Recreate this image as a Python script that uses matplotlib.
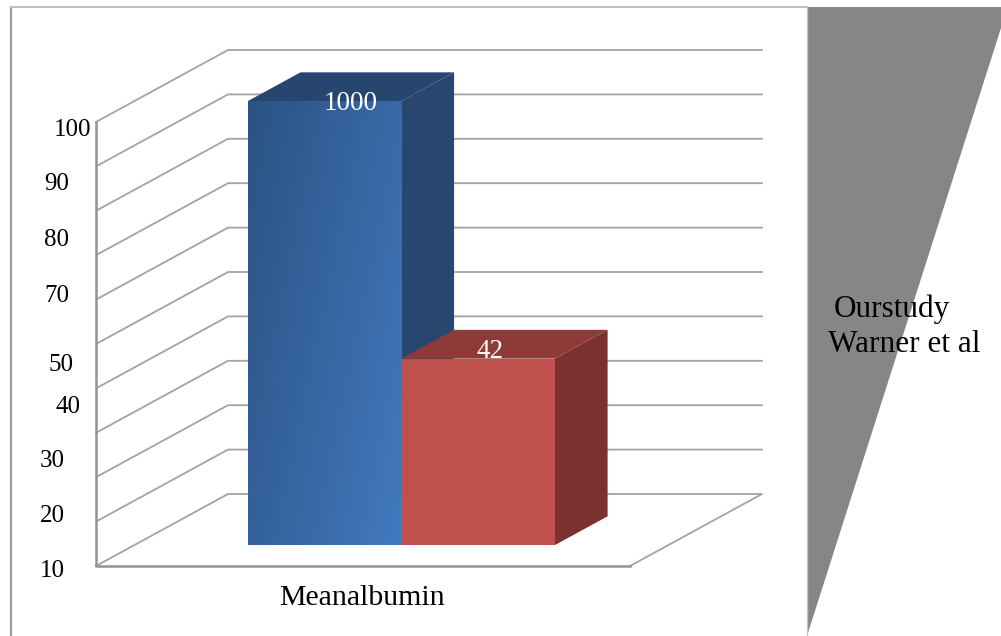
# -- 3D look column chart: mean albumin --

import numpy as np
import matplotlib
matplotlib.use('Agg')
import matplotlib.pyplot as plt
from matplotlib.colors import LinearSegmentedColormap
from matplotlib.patches import Polygon

plt.rcParams['font.family'] = ['Liberation Serif', 'DejaVu Serif']

#------------------------------------------------------------------
# data
category = 'Meanalbumin'
series_names = ['Ourstudy', 'Warner et al']
series_values = [1000, 42]
grid_values = [0, 10, 20, 30, 40, 50, 60, 70, 80, 90, 100]
tick_labels = ['100', '90', '80', '70', '50', '40', '30', '20', '10']

# hand placed axis labels, in pixels: right edge and middle
tick_right = [91, 69, 69, 69, 73, 80, 65, 65, 65]
tick_mid = [130, 184, 240, 296, 365, 407, 461, 516, 571]

#------------------------------------------------------------------
# layout
W, H = 1001, 636
y_max = 100
depth_x = 132 / 534      # shift of the back wall, axes x units
depth_y = 72 / 4.44      # shift of the back wall, value units
bar_near, bar_far = 0.29, 0.69
bar_w = 0.2875
bar_start = 0.2125
grid_col = '#a3a3a3'

fig = plt.figure(figsize=(W / 100, H / 100), dpi=100)

# whole figure layer in pixels, for the frame and the loose text
back = fig.add_axes([0, 0, 1, 1], zorder=0)
back.set_xlim(0, W)
back.set_ylim(H, 0)
back.axis('off')

back.plot([11, 11], [7, H], color='#9a9a9a', lw=1.6)
back.plot([11, 807], [7, 7], color='#bdbdbd', lw=1.4)
back.add_patch(Polygon([(807, 7), (W, 7), (W, 28), (807, H)], closed=True,
                       facecolor='#868686', edgecolor='none'))
back.plot([807, 807], [7, H], color='#c4c4c4', lw=1.0)

# chart layer: x runs 0-1 along the front edge, y is the value
ax = fig.add_axes([96 / W, (H - 566) / H, 534 / W, 444 / H], zorder=1)
ax.patch.set_alpha(0)
ax.axis('off')


def project(x, v, d):
    # oblique projection, d=0 front of the floor, d=1 back wall
    return x + d * depth_x, v + d * depth_y


def face(points, color, z):
    ax.add_patch(Polygon([project(*p) for p in points], closed=True, facecolor=color,
                         edgecolor='none', clip_on=False, zorder=z))


# side wall and back wall lines
for v in grid_values[1:]:
    x_line, y_line = zip(project(0, v, 0), project(0, v, 1), project(1, v, 1))
    ax.plot(x_line, y_line, color=grid_col, lw=1.3, clip_on=False, zorder=1,
            solid_joinstyle='miter')

# floor
x_line, y_line = zip(project(0, 0, 0), project(0, 0, 1), project(1, 0, 1), project(1, 0, 0))
ax.plot(x_line, y_line, color=grid_col, lw=1.3, clip_on=False, zorder=1)
ax.plot([0, 0, 1], [y_max, 0, 0], color='#949494', lw=1.8, clip_on=False, zorder=2)

#------------------------------------------------------------------
# columns, heights stop at the top of the axis
heights = np.minimum(series_values, y_max)
left_edges = [bar_start, bar_start + bar_w]
top_cols = ['#27466f', '#8e3a38']
side_cols = ['#28476e', '#7a312f']
front_cols = ['#3c6ca8', '#c0504d']

for i in range(len(series_values)):
    x0, x1, h = left_edges[i], left_edges[i] + bar_w, heights[i]
    z = 3 + i
    face([(x1, 0, bar_near), (x1, 0, bar_far), (x1, h, bar_far), (x1, h, bar_near)], side_cols[i], z)
    face([(x0, h, bar_near), (x0, h, bar_far), (x1, h, bar_far), (x1, h, bar_near)], top_cols[i], z)
    fx, fy = project(x0, 0, bar_near)
    bars = ax.bar(fx, h, width=bar_w, bottom=fy, align='edge', color=front_cols[i],
                  clip_on=False, zorder=z)
    if i == 0:
        # blue front face gets a diagonal shade
        gx, gy = np.meshgrid(np.linspace(0, 1, 200), np.linspace(1, 0, 200))
        shade = LinearSegmentedColormap.from_list('blue_face', ['#2b5283', '#4279bf'])
        img = ax.imshow(0.62 * gx + 0.38 * (1 - gy), cmap=shade, aspect='auto', zorder=z,
                        extent=[fx, fx + bar_w, fy, fy + h], clip_on=True)
        img.set_clip_path(bars[0])
        # darker top with the same direction
        top_pts = [project(x0, h, bar_near), project(x0, h, bar_far),
                   project(x1, h, bar_far), project(x1, h, bar_near)]
        top_shade = LinearSegmentedColormap.from_list('blue_top', ['#1f3a60', '#2d5281'])
        xs = [p[0] for p in top_pts]
        ys = [p[1] for p in top_pts]
        img_top = ax.imshow(np.linspace(0, 1, 200).reshape(1, -1), cmap=top_shade, aspect='auto',
                            zorder=z, extent=[min(xs), max(xs), min(ys), max(ys)])
        img_top.set_clip_path(Polygon(top_pts, closed=True, transform=ax.transData))

ax.set_xlim(0, 1)
ax.set_ylim(0, y_max)

# value labels
label_pos = [(351, 103), (490, 352)]
for (px, py), val in zip(label_pos, series_values):
    back.text(px, py, str(val), color='white', fontsize=19.5, ha='center', va='center', zorder=10)
back.set_zorder(2)
back.patch.set_alpha(0)

#------------------------------------------------------------------
# axis labels, category and series names
for lab, r, m in zip(tick_labels, tick_right, tick_mid):
    back.text(r, m, lab, fontsize=18, ha='right', va='center', color='black')
back.text(362, 598, category, fontsize=21.5, ha='center', va='center', color='black')
back.text(834, 309, series_names[0], fontsize=22.5, ha='left', va='center', color='black')
back.text(828, 344, series_names[1], fontsize=22.5, ha='left', va='center', color='black')

fig.savefig('out.png', dpi=100, facecolor='white')
plt.close(fig)
